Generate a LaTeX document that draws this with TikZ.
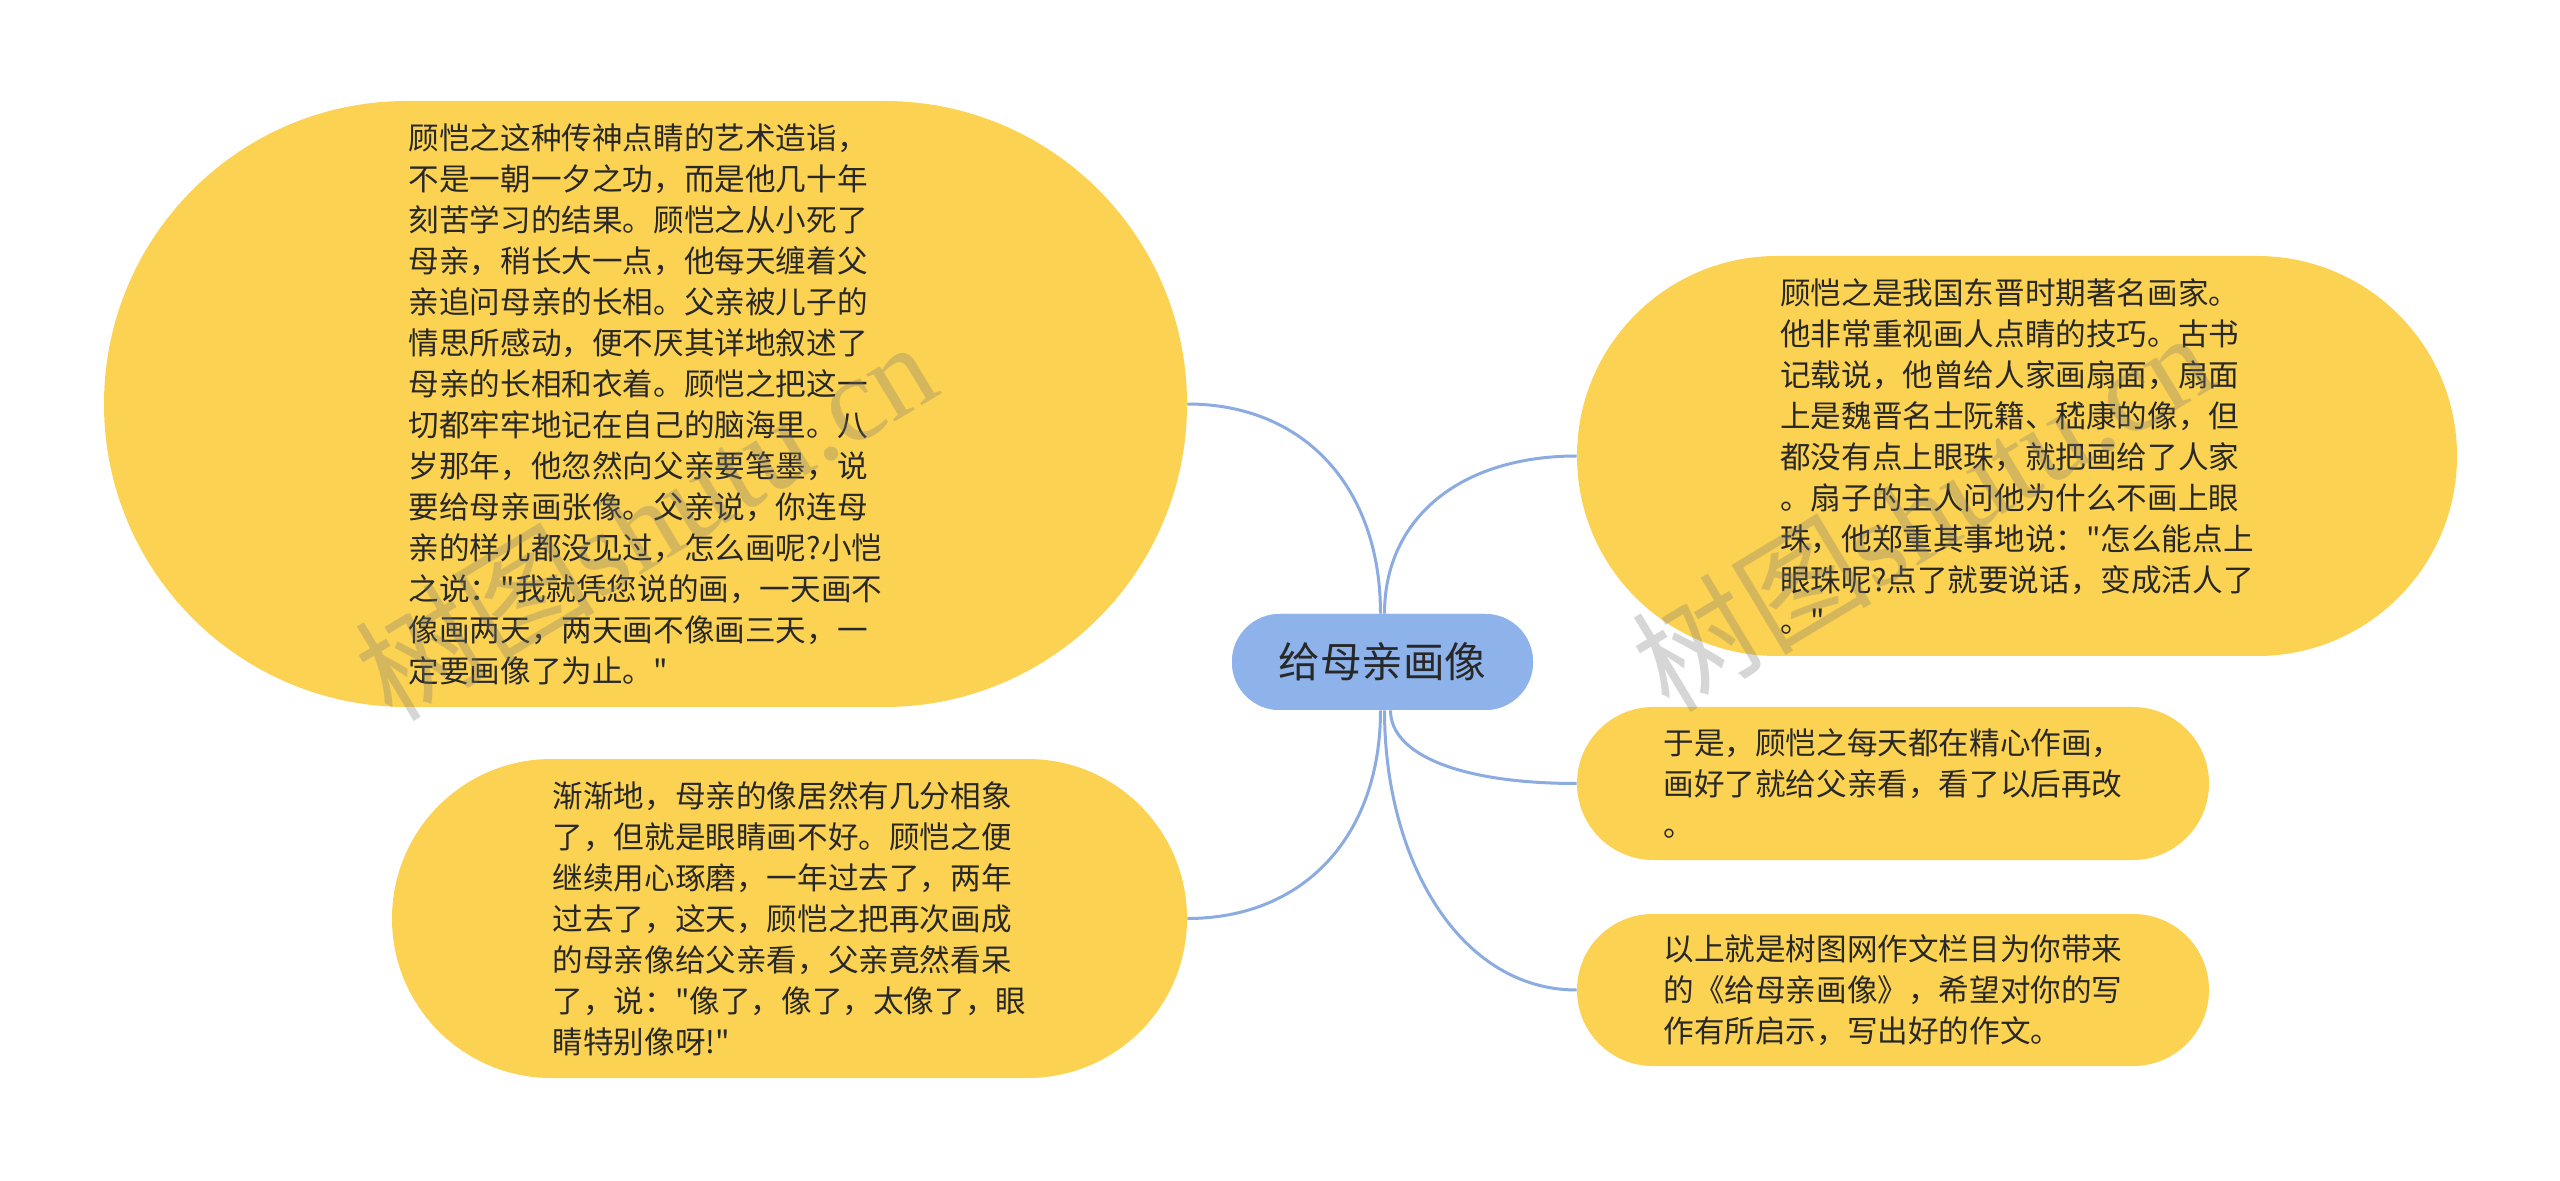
\documentclass[tikz,border=0pt]{standalone}
\usepackage{fontspec}
\setmainfont{Noto Sans CJK SC}[Ligatures=TeXOff]
\newfontfamily\wmserif{Liberation Serif}
\newfontfamily\wmcjk{Noto Sans CJK SC}
\definecolor{leafyellow}{RGB}{252,210,82}
\definecolor{rootblue}{RGB}{142,178,234}
\definecolor{linkblue}{RGB}{140,172,225}
\definecolor{inkgray}{RGB}{40,40,40}
\definecolor{wmgray}{RGB}{120,120,120}
\tikzset{
  leaf/.style={rectangle, fill=leafyellow, inner sep=0pt, align=left,
    text=inkgray, font=\fontsize{15.3pt}{20.5pt}\selectfont},
  rootnode/.style={rectangle, fill=rootblue, inner sep=0pt, align=center,
    text=inkgray, font=\fontsize{20.8pt}{24pt}\selectfont,
    minimum width=150.5pt, minimum height=48pt, rounded corners=23.9pt},
  link/.style={draw=linkblue, line width=1.5pt},
  wmark/.style={text=wmgray, opacity=0.3, inner sep=0pt}
}
\begin{document}
\begin{tikzpicture}[x=0.5pt, y=-0.5pt]
\useasboundingbox (0,0) rectangle (2560,1181);
\fill[white] (0,0) rectangle (2560,1181);

\node[rootnode] (C) at (1382.5,662) {给母亲画像};

\node[leaf, minimum width=541.5pt, minimum height=303pt, rounded corners=151.4pt] (L1) at (645.5,404) {顾恺之这种传神点睛的艺术造诣，\\不是一朝一夕之功，而是他几十年\\刻苦学习的结果。顾恺之从小死了\\母亲，稍长大一点，他每天缠着父\\亲追问母亲的长相。父亲被儿子的\\情思所感动，便不厌其详地叙述了\\母亲的长相和衣着。顾恺之把这一\\切都牢牢地记在自己的脑海里。八\\岁那年，他忽然向父亲要笔墨，说\\要给母亲画张像。父亲说，你连母\\亲的样儿都没见过，怎么画呢?小恺\\之说："我就凭您说的画，一天画不\\像画两天，两天画不像画三天，一\\定要画像了为止。"};

\node[leaf, minimum width=397.5pt, minimum height=159.5pt, rounded corners=79.7pt] (L2) at (789.5,918.5) {渐渐地，母亲的像居然有几分相象\\了，但就是眼睛画不好。顾恺之便\\继续用心琢磨，一年过去了，两年\\过去了，这天，顾恺之把再次画成\\的母亲像给父亲看，父亲竟然看呆\\了，说："像了，像了，太像了，眼\\睛特别像呀!"};

\node[leaf, minimum width=440pt, minimum height=200pt, rounded corners=99.9pt] (R1) at (2017,456) {顾恺之是我国东晋时期著名画家。\\他非常重视画人点睛的技巧。古书\\记载说，他曾给人家画扇面，扇面\\上是魏晋名士阮籍、嵇康的像，但\\都没有点上眼珠，就把画给了人家\\。扇子的主人问他为什么不画上眼\\珠，他郑重其事地说："怎么能点上\\眼珠呢?点了就要说话，变成活人了\\。"};

\node[leaf, minimum width=316pt, minimum height=76.5pt, rounded corners=38.2pt] (R2) at (1893,783.5) {于是，顾恺之每天都在精心作画，\\画好了就给父亲看，看了以后再改\\。};

\node[leaf, minimum width=316pt, minimum height=76pt, rounded corners=37.9pt] (R3) at (1893,990) {以上就是树图网作文栏目为你带来\\的《给母亲画像》，希望对你的写\\作有所启示，写出好的作文。};

\draw[link] ([xshift=-1pt]C.north) .. controls +(0,-126) and +(117,0) .. (L1.east);
\draw[link] ([xshift=1pt]C.north) .. controls +(0,-95) and +(-117,0) .. (R1.west);
\draw[link] ([xshift=-1pt]C.south) .. controls +(0,125) and +(117,0) .. (L2.east);
\draw[link] ([xshift=4pt]C.south) .. controls +(0,44) and +(-117,0) .. (R2.west);
\draw[link] ([xshift=1pt]C.south) .. controls +(0,150) and +(-117,0) .. (R3.west);

% root drawn again on top of the connector ends
\node[rootnode] (Ctop) at (C) {给母亲画像};

% watermarks
\node[wmark, rotate=31] (wm1) at (645,519) {\fontsize{60pt}{64pt}\selectfont\wmcjk 树图\wmserif shutu.cn};
\node[wmark, rotate=31] (wm2) at (1922,510) {\fontsize{60pt}{64pt}\selectfont\wmcjk 树图\wmserif shutu.cn};
\end{tikzpicture}
\end{document}
